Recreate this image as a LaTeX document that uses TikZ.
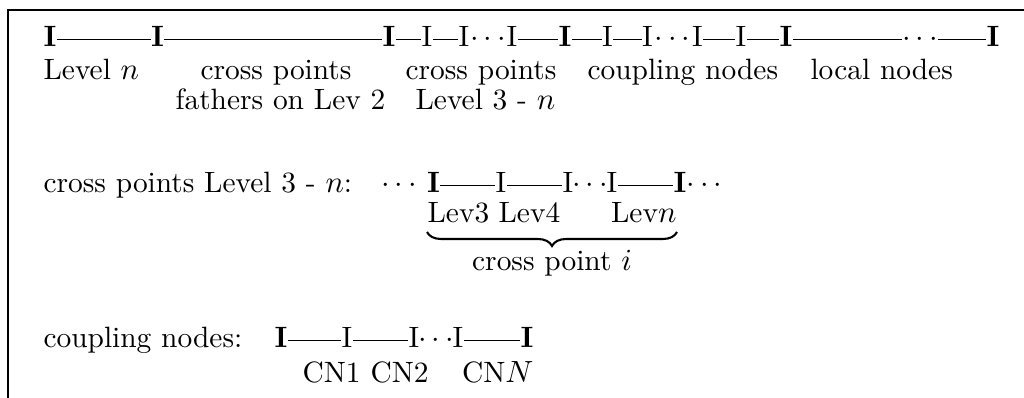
\documentclass[tikz,border=0pt]{standalone}
\usetikzlibrary{decorations.pathreplacing}
\newcommand{\dashlink}[2]{\draw[dsh] ([yshift=2.7pt]#1.base east) -- ([yshift=2.7pt]#2.base west);}
\newcommand{\txtsize}{\fontsize{10.5}{12.6}\selectfont}
\begin{document}
\begin{tikzpicture}[x=0.357pt,y=-0.357pt,
  every node/.style={inner sep=0pt, font=\txtsize},
  bI/.style={anchor=base, font=\txtsize\bfseries},
  rI/.style={anchor=base},
  dots/.style={anchor=base},
  lbl/.style={anchor=base west},
  dsh/.style={line width=0.42pt},
  frame/.style={line width=0.75pt},
  brc/.style={decorate, decoration={brace, mirror, amplitude=5pt}, line width=0.75pt}]
\useasboundingbox (0,0) rectangle (1024,398);
\draw[frame] (1024,10) -- (8,10) -- (8,398);
% row 1
\node[bI] (t1) at (50,47) {I};
\node[bI] (t2) at (157.5,47) {I};
\node[bI] (t3) at (389,47) {I};
\node[rI] (t4) at (427,47) {I};
\node[rI] (t5) at (464,47) {I};
\node[dots] (td1) at (488,47) {$\cdots$};
\node[rI] (t6) at (512,47) {I};
\node[bI] (t7) at (565,47) {I};
\node[rI] (t8) at (607.5,47) {I};
\node[rI] (t9) at (647.5,47) {I};
\node[dots] (td2) at (672.5,47) {$\cdots$};
\node[rI] (t10) at (697.5,47) {I};
\node[rI] (t11) at (741,47) {I};
\node[bI] (t12) at (786,47) {I};
\node[dots] (td3) at (920,47) {$\cdots$};
\node[bI] (t13) at (993,47) {I};
\dashlink{t1}{t2}
\dashlink{t2}{t3}
\dashlink{t3}{t4}
\dashlink{t4}{t5}
\dashlink{t6}{t7}
\dashlink{t7}{t8}
\dashlink{t8}{t9}
\dashlink{t10}{t11}
\dashlink{t11}{t12}
\dashlink{t12}{td3}
\dashlink{td3}{t13}
% rows 2-3
\node[lbl] (l1) at (43,80) {Level $n$};
\node[lbl] (l2) at (200,80) {cross points};
\node[lbl] (l3) at (405,80) {cross points};
\node[lbl] (l4) at (587,80) {coupling nodes};
\node[lbl] (l5) at (810,80) {local nodes};
\node[lbl] (l6) at (175,110) {fathers on Lev 2};
\node[lbl] (l7) at (415,110) {Level 3 - $n$};
% section 2
\node[lbl] (c0) at (43,193) {cross points Level 3 - $n$:};
\node[dots] (cd0) at (399,193) {$\cdots$};
\node[bI] (c1) at (433.5,193) {I};
\node[rI] (c2) at (501,193) {I};
\node[rI] (c3) at (568,193) {I};
\node[dots] (cd1) at (590,193) {$\cdots$};
\node[rI] (c4) at (612,193) {I};
\node[bI] (c5) at (680,193) {I};
\node[dots,anchor=base west] (cd2) at (686,193) {$\cdots$};
\dashlink{c1}{c2}
\dashlink{c2}{c3}
\dashlink{c4}{c5}
\node[lbl] (v3) at (427,223) {Lev3};
\node[lbl] (v4) at (498,223) {Lev4};
\node[anchor=base east] (vn) at (677,223) {Lev$n$};
\coordinate (bl) at (427,232);
\coordinate (br) at (677,232);
\draw[brc] (bl) -- (br);
\node[anchor=base] (cp) at (552,271) {cross point $i$};
% section 3
\node[lbl] (k0) at (43,348) {coupling nodes:};
\node[bI] (k1) at (281,348) {I};
\node[rI] (k2) at (347,348) {I};
\node[rI] (k3) at (414,348) {I};
\node[dots] (kd) at (436,348) {$\cdots$};
\node[rI] (k4) at (458,348) {I};
\node[bI] (k5) at (527,348) {I};
\dashlink{k1}{k2}
\dashlink{k2}{k3}
\dashlink{k4}{k5}
\node[lbl] (n1) at (302,383) {CN1};
\node[lbl] (n2) at (370,383) {CN2};
\node[anchor=base east] (nN) at (534,383) {CN$N$};
\end{tikzpicture}
\end{document}
